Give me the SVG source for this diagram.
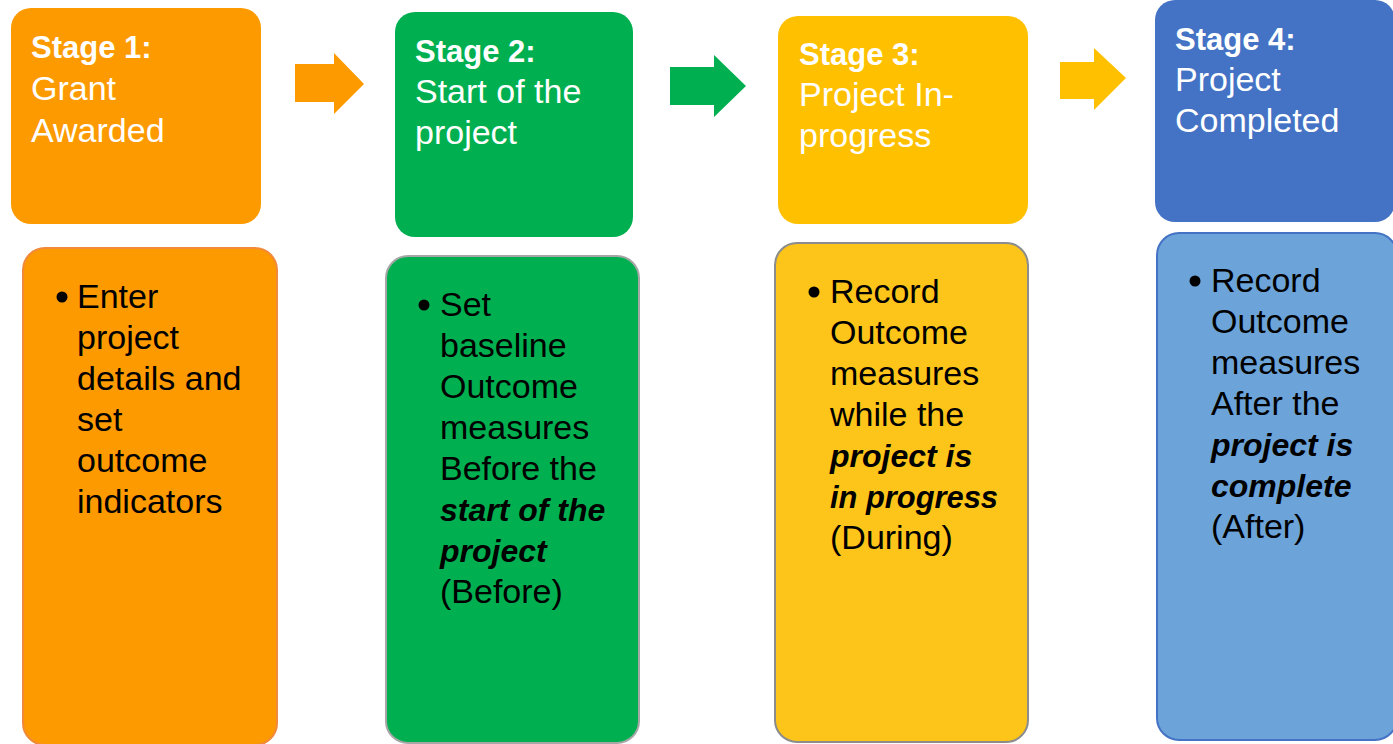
<svg xmlns="http://www.w3.org/2000/svg" width="1393" height="744" viewBox="0 0 1393 744">
<style>
text{font-family:"Liberation Sans",Arial,sans-serif;font-size:34px}
.hd{fill:#fff}
.hd .b{font-weight:bold;font-size:31px}
.bd{fill:#000}
.bi{font-weight:bold;font-style:italic;font-size:32px}
</style>
<rect width="1393" height="744" fill="#fff"/>
<g id="connectors">
<polygon points="295,64 334,64 334,53 364,84 334,114 334,102 295,102" fill="#FC9A00"/>
<polygon points="670,67 714,67 714,55 746,86 714,117 714,105 670,105" fill="#00B050"/>
<polygon points="1060,62 1094,62 1094,48 1126,78 1094,110 1094,99 1060,99" fill="#FFC000"/>
</g>
<g id="stage1">
<rect x="11" y="8" width="250" height="216" rx="20" fill="#FC9A00"/>
<text class="hd"><tspan class="b" x="31" y="58">Stage 1:</tspan><tspan x="31" y="100">Grant</tspan><tspan x="31" y="142">Awarded</tspan></text>
</g>
<g id="stage1-body">
<rect x="23" y="248" width="254" height="497" rx="22" fill="#FC9A00" stroke="#F08A3A" stroke-width="2"/>
<circle cx="62" cy="297" r="5.5" fill="#000"/>
<text class="bd"><tspan x="77" y="308">Enter</tspan><tspan x="77" y="349">project</tspan><tspan x="77" y="390">details and</tspan><tspan x="77" y="431">set</tspan><tspan x="77" y="472">outcome</tspan><tspan x="77" y="513">indicators</tspan></text>
</g>
<g id="stage2">
<rect x="395" y="12" width="238" height="225" rx="20" fill="#00B050"/>
<text class="hd"><tspan class="b" x="415" y="62">Stage 2:</tspan><tspan x="415" y="103">Start of the</tspan><tspan x="415" y="144">project</tspan></text>
</g>
<g id="stage2-body">
<rect x="386" y="256" width="253" height="487" rx="22" fill="#00B050" stroke="#A6A6A6" stroke-width="2"/>
<circle cx="424" cy="305" r="5.5" fill="#000"/>
<text class="bd"><tspan x="440" y="316">Set</tspan><tspan x="440" y="357">baseline</tspan><tspan x="440" y="398">Outcome</tspan><tspan x="440" y="439">measures</tspan><tspan x="440" y="480">Before the</tspan><tspan class="bi" x="440" y="521">start of the</tspan><tspan class="bi" x="440" y="562">project</tspan><tspan x="440" y="603">(Before)</tspan></text>
</g>
<g id="stage3">
<rect x="778" y="16" width="250" height="208" rx="20" fill="#FFC000"/>
<text class="hd"><tspan class="b" x="799" y="65">Stage 3:</tspan><tspan x="799" y="106">Project In-</tspan><tspan x="799" y="147">progress</tspan></text>
</g>
<g id="stage3-body">
<rect x="775" y="243" width="253" height="499" rx="22" fill="#FDC51A" stroke="#8C8C8C" stroke-width="2"/>
<circle cx="814" cy="292" r="5.5" fill="#000"/>
<text class="bd"><tspan x="830" y="303">Record</tspan><tspan x="830" y="344">Outcome</tspan><tspan x="830" y="385">measures</tspan><tspan x="830" y="426">while the</tspan><tspan class="bi" x="830" y="467">project is</tspan><tspan class="bi" x="830" y="508" textLength="168" lengthAdjust="spacingAndGlyphs">in progress</tspan><tspan x="830" y="549">(During)</tspan></text>
</g>
<g id="stage4">
<rect x="1155" y="0" width="240" height="222" rx="20" fill="#4472C4"/>
<text class="hd"><tspan class="b" x="1175" y="50">Stage 4:</tspan><tspan x="1175" y="91">Project</tspan><tspan x="1175" y="132">Completed</tspan></text>
</g>
<g id="stage4-body">
<rect x="1157" y="233" width="240" height="507" rx="22" fill="#6CA4DA" stroke="#4472C4" stroke-width="2"/>
<circle cx="1195" cy="281" r="5.5" fill="#000"/>
<text class="bd"><tspan x="1211" y="292">Record</tspan><tspan x="1211" y="333">Outcome</tspan><tspan x="1211" y="374">measures</tspan><tspan x="1211" y="415">After the</tspan><tspan class="bi" x="1211" y="456">project is</tspan><tspan class="bi" x="1211" y="497">complete</tspan><tspan x="1211" y="538">(After)</tspan></text>
</g>
</svg>
